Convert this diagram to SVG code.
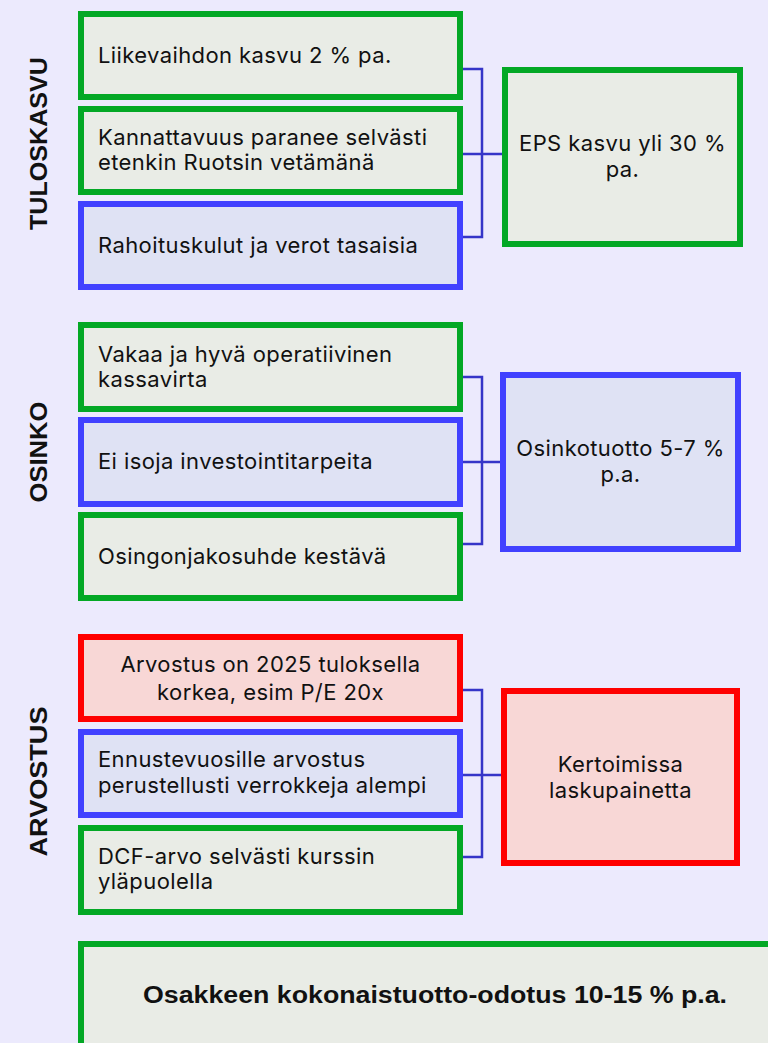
<svg xmlns="http://www.w3.org/2000/svg" width="768" height="1043" viewBox="0 0 768 1043">
<style>
.bg{fill:#ECEAFD}
.g{fill:#E9ECE6;stroke:#03A825;stroke-width:6}
.b{fill:#DFE2F4;stroke:#4141FF;stroke-width:6}
.r{fill:#F8D7D6;stroke:#FF0000;stroke-width:6}
.t{font-family:Inter,"Liberation Sans",sans-serif;font-size:22px;letter-spacing:0.4px;fill:#111}
.c{text-anchor:middle}
.lab{font-family:"Liberation Sans",Arial,sans-serif;font-weight:bold;font-size:24px;fill:#111;text-anchor:middle}
.tot{font-family:"Liberation Sans",Arial,sans-serif;font-weight:bold;font-size:23px;fill:#111;text-anchor:middle}
.conn{fill:none;stroke:#3535C8;stroke-width:2.5}
</style>
<rect class="bg" x="0" y="0" width="768" height="1043"/>
<g id="connectors">
<path class="conn" d="M463,69 H482 V237 H463 M463,154 H502"/>
<path class="conn" d="M463,377 H482 V544 H463 M463,462 H500"/>
<path class="conn" d="M463,690 H482 V857 H463 M463,775 H501"/>
</g>
<g id="label-tuloskasvu"><text class="lab" transform="translate(47,143.5) rotate(-90)" textLength="173" lengthAdjust="spacingAndGlyphs">TULOSKASVU</text></g>
<g id="label-osinko"><text class="lab" transform="translate(47,452) rotate(-90)" textLength="101" lengthAdjust="spacingAndGlyphs">OSINKO</text></g>
<g id="label-arvostus"><text class="lab" transform="translate(47,781.5) rotate(-90)" textLength="150" lengthAdjust="spacingAndGlyphs">ARVOSTUS</text></g>

<g id="n-liikevaihto"><rect class="g" x="81" y="14" width="379" height="83"/><text class="t" x="98" y="63">Liikevaihdon kasvu 2 % pa.</text></g>
<g id="n-kannattavuus"><rect class="g" x="81" y="109" width="379" height="83"/><text class="t" x="98" y="145">Kannattavuus paranee selvästi</text><text class="t" x="98" y="170">etenkin Ruotsin vetämänä</text></g>
<g id="n-rahoitus"><rect class="b" x="81" y="204" width="379" height="83"/><text class="t" x="98" y="253">Rahoituskulut ja verot tasaisia</text></g>
<g id="n-eps"><rect class="g" x="505" y="70" width="235" height="174"/><text class="t c" x="622.5" y="151">EPS kasvu yli 30 %</text><text class="t c" x="622.5" y="177">pa.</text></g>

<g id="n-kassavirta"><rect class="g" x="81" y="325" width="379" height="84"/><text class="t" x="98" y="362">Vakaa ja hyvä operatiivinen</text><text class="t" x="98" y="387">kassavirta</text></g>
<g id="n-investoinnit"><rect class="b" x="81" y="420" width="379" height="84"/><text class="t" x="98" y="469">Ei isoja investointitarpeita</text></g>
<g id="n-osingonjako"><rect class="g" x="81" y="515" width="379" height="83"/><text class="t" x="98" y="564">Osingonjakosuhde kestävä</text></g>
<g id="n-osinkotuotto"><rect class="b" x="503" y="375" width="235" height="174"/><text class="t c" x="620.5" y="456">Osinkotuotto 5-7 %</text><text class="t c" x="620.5" y="482">p.a.</text></g>

<g id="n-arvostus2025"><rect class="r" x="81" y="637" width="379" height="82"/><text class="t c" x="270.5" y="672">Arvostus on 2025 tuloksella</text><text class="t c" x="270.5" y="700">korkea, esim P/E 20x</text></g>
<g id="n-ennuste"><rect class="b" x="81" y="732" width="379" height="83"/><text class="t" x="98" y="767">Ennustevuosille arvostus</text><text class="t" x="98" y="793">perustellusti verrokkeja alempi</text></g>
<g id="n-dcf"><rect class="g" x="81" y="828" width="379" height="84"/><text class="t" x="98" y="864">DCF-arvo selvästi kurssin</text><text class="t" x="98" y="889">yläpuolella</text></g>
<g id="n-kertoimet"><rect class="r" x="504" y="691" width="233" height="172"/><text class="t c" x="620.5" y="772">Kertoimissa</text><text class="t c" x="620.5" y="798">laskupainetta</text></g>

<g id="n-kokonaistuotto"><rect class="g" x="81" y="944" width="700" height="120"/><text class="tot" x="435" y="1003" textLength="584" lengthAdjust="spacingAndGlyphs">Osakkeen kokonaistuotto-odotus 10-15 % p.a.</text></g>
</svg>
